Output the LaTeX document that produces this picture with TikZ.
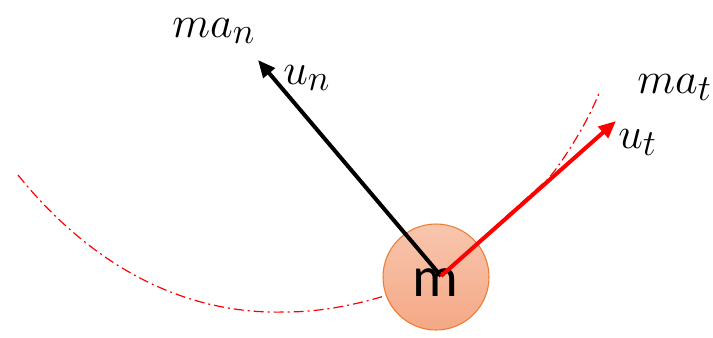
\documentclass[tikz,border=0pt]{standalone}
\usepackage{fontspec}
\newfontfamily\carlito{Carlito}
\usetikzlibrary{arrows.meta}
\definecolor{ballTop}{RGB}{248,198,174}
\definecolor{ballBot}{RGB}{244,168,134}
\definecolor{ballEdge}{RGB}{237,125,49}
\begin{document}
\begin{tikzpicture}[x=0.75pt,y=-0.75pt,
  vec/.style={line width=3pt,-{Triangle[length=13pt,width=11pt]}},
  lbl/.style={anchor=base west,inner sep=0pt,font=\Huge,scale=1.33,transform shape},
  traj/.style={red,line width=0.9pt,dash pattern=on 7.5pt off 3pt on 1.5pt off 3pt}]
\useasboundingbox (0,0) rectangle (713,337);
% trajectory
\draw[traj] (18,175) .. controls (80,252) and (170,315) .. (285,312)
  .. controls (340,312) and (395,295) .. (441,275)
  -- (548,179) .. controls (562,163) and (588,122) .. (599,93);
% mass
\node[circle, minimum size=79.5pt, inner sep=0pt, draw=ballEdge, line width=0.8pt,
      top color=ballTop, bottom color=ballBot] (ball) at (436,277) {};
\node[anchor=base, inner sep=0pt, font=\carlito\fontsize{43}{50}\selectfont] (mtext) at (435,296) {m};
% vectors
\coordinate (o) at (441,276);
\coordinate (tipn) at (258,60);
\coordinate (tipt) at (616,121);
\draw[vec, black] (o) -- (tipn);
\draw[vec, red] (o) -- (tipt);
% labels
\node[lbl] (man) at (172,37) {$ma_n$};
\node[lbl] (un) at (283,84) {$u_n$};
\node[lbl] (mat) at (637,93) {$ma_t$};
\node[lbl] (ut) at (618,148) {$u_t$};
\end{tikzpicture}
\end{document}
